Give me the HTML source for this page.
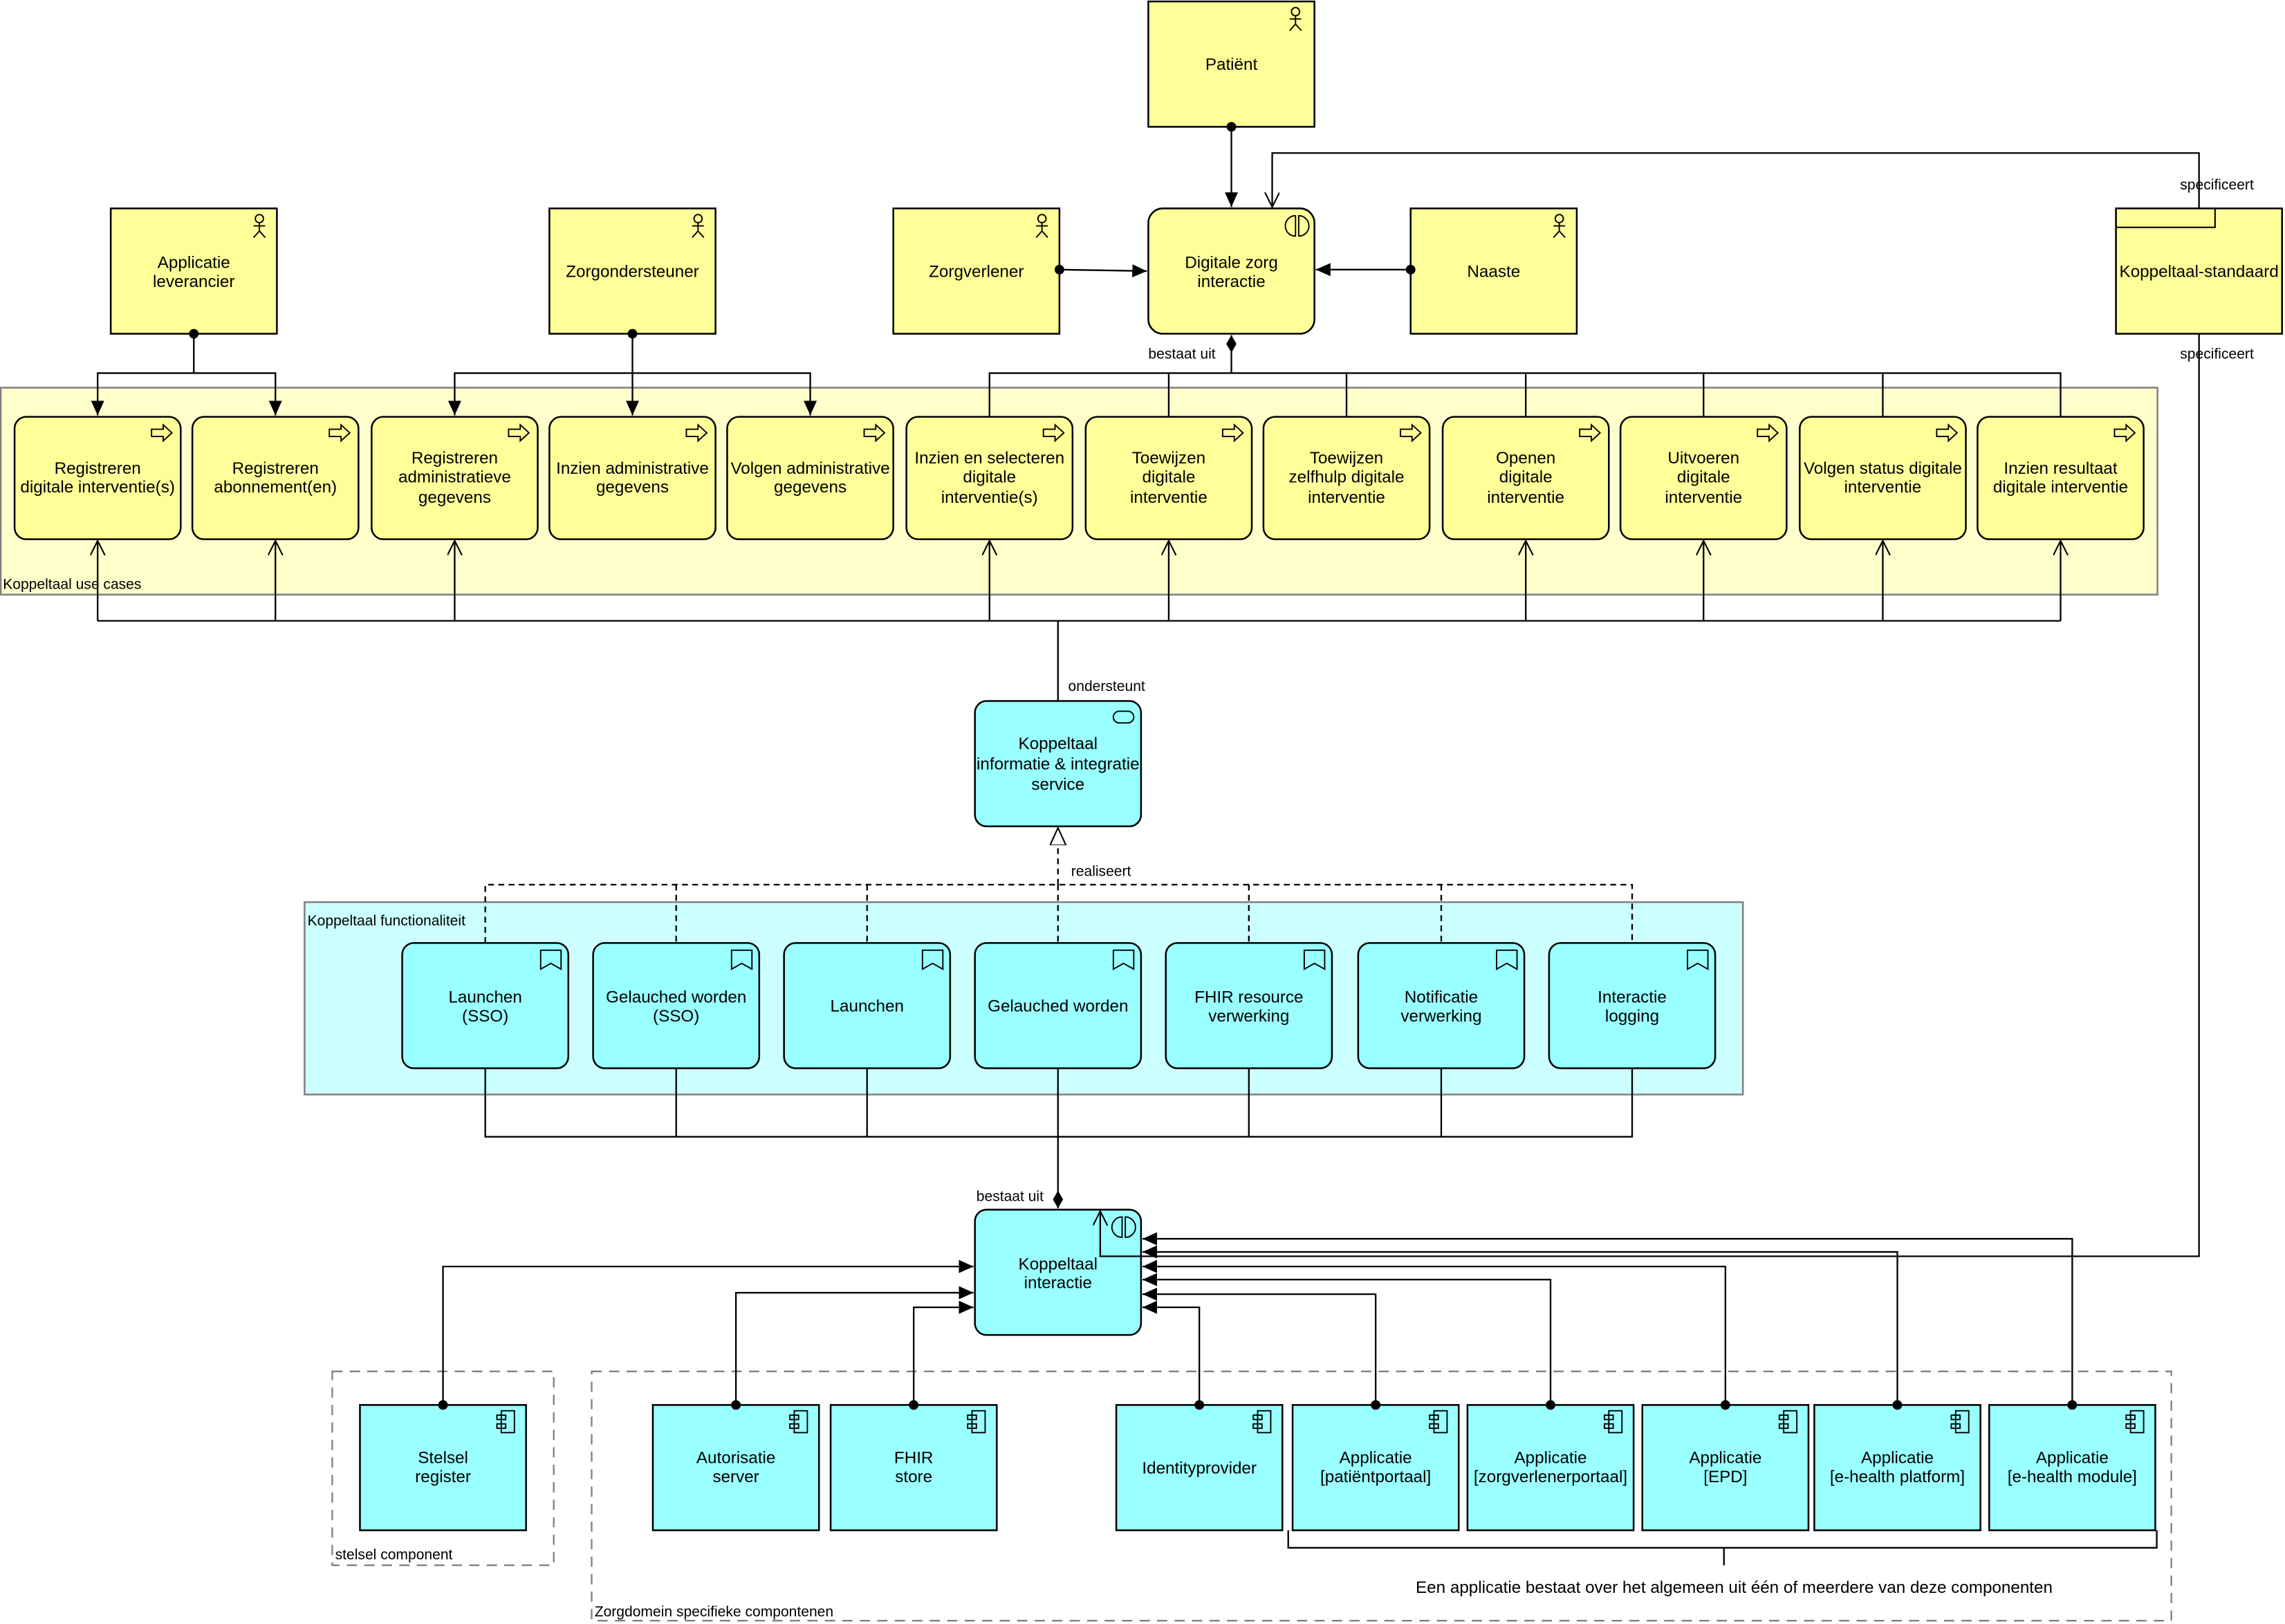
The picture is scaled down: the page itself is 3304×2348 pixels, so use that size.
<!DOCTYPE html>
<html><head><meta charset="utf-8"><style>
html,body{margin:0;padding:0;background:#fff}
svg{display:block}
text{font-family:"Liberation Sans",Arial,sans-serif;font-size:11.5px;fill:#000}
.c{text-anchor:middle}
.y{fill:#ffff99;stroke:#000;stroke-width:1.2}
.b{fill:#99ffff;stroke:#000;stroke-width:1.2}
.ln{fill:none;stroke:#000;stroke-width:1.1}
.ds{fill:none;stroke:#000;stroke-width:1.1;stroke-dasharray:4,3}
.ic{fill:none;stroke:#000;stroke-width:0.9}
</style></head><body>
<svg width="3304" height="2348" viewBox="0 0 1568 1114.3" preserveAspectRatio="none" xmlns="http://www.w3.org/2000/svg">
<defs>
<marker id="af" markerUnits="userSpaceOnUse" markerWidth="12" markerHeight="10" refX="10" refY="4.5" orient="auto"><path d="M0,0 L10,4.5 L0,9 Z" fill="#000"/></marker>
<marker id="ao" markerUnits="userSpaceOnUse" markerWidth="12" markerHeight="12" refX="10" refY="5" orient="auto"><path d="M0,0 L10,5 L0,10" fill="none" stroke="#000" stroke-width="1"/></marker>
<marker id="at" markerUnits="userSpaceOnUse" markerWidth="14" markerHeight="12" refX="12" refY="5.5" orient="auto"><path d="M0,0 L12,5.5 L0,11 Z" fill="#fff" stroke="#000" stroke-width="1"/></marker>
<marker id="dot" markerUnits="userSpaceOnUse" markerWidth="8" markerHeight="8" refX="4" refY="4" orient="auto"><circle cx="4" cy="4" r="3.3" fill="#000"/></marker>
<marker id="dia" markerUnits="userSpaceOnUse" markerWidth="14" markerHeight="9" refX="13" refY="4" orient="auto"><path d="M1,4 L7,0.5 L13,4 L7,7.5 Z" fill="#000"/></marker>
<g id="actor" class="ic"><circle cx="0" cy="-5" r="2.8"/><path d="M0,-2.2 V3.5 M-4,0 H4 M0,3.5 L-4,8 M0,3.5 L4,8"/></g>
<g id="proc" class="ic"><path d="M-8,-2.5 H0 V-5.5 L6,0 L0,5.5 V2.5 H-8 Z"/></g>
<g id="inter" class="ic"><path d="M-1,-7 A7,7 0 0 0 -1,7 Z M1.2,-7 A7,7 0 0 1 1.2,7 Z"/></g>
<g id="serv" class="ic"><rect x="-7" y="-4" width="14" height="8" rx="4"/></g>
<g id="func" class="ic"><path d="M-7,-7 H7 V6 L0,2 L-7,6 Z"/></g>
<g id="comp" class="ic"><rect x="-3" y="-7" width="9" height="15"/><rect x="-6" y="-4" width="6" height="3"/><rect x="-6" y="2" width="6" height="3"/></g>
</defs>

<!-- containers -->
<rect x="0.5" y="266" width="1480" height="142" fill="#ffffcc" stroke="#808080" stroke-width="1.2"/>
<text x="2" y="404" style="font-size:10px">Koppeltaal use cases</text>
<rect x="209" y="619" width="987" height="132" fill="#ccffff" stroke="#808080" stroke-width="1.2"/>
<text x="211" y="635" style="font-size:10px">Koppeltaal functionaliteit</text>
<rect x="228" y="941" width="152" height="133" fill="none" stroke="#808080" stroke-width="1.1" stroke-dasharray="7,5"/>
<text x="230" y="1070" style="font-size:10px">stelsel component</text>
<rect x="406" y="941" width="1084" height="171" fill="none" stroke="#808080" stroke-width="1.1" stroke-dasharray="7,5"/>
<text x="408" y="1109" style="font-size:10px">Zorgdomein specifieke compontenen</text>

<!-- top actors -->
<rect class="y" x="788" y="1" width="114" height="86"/><use href="#actor" x="889" y="13"/>
<text class="c" x="845" y="48">Patiënt</text>
<rect class="y" x="788" y="143" width="114" height="86" rx="10"/><use href="#inter" x="890" y="155"/>
<text class="c" x="845" y="184">Digitale zorg</text><text class="c" x="845" y="197">interactie</text>
<rect class="y" x="613" y="143" width="114" height="86"/><use href="#actor" x="715" y="155"/>
<text class="c" x="670" y="190">Zorgverlener</text>
<rect class="y" x="968" y="143" width="114" height="86"/><use href="#actor" x="1070" y="155"/>
<text class="c" x="1025" y="190">Naaste</text>
<rect class="y" x="76" y="143" width="114" height="86"/><use href="#actor" x="178" y="155"/>
<text class="c" x="133" y="184">Applicatie</text><text class="c" x="133" y="197">leverancier</text>
<rect class="y" x="377" y="143" width="114" height="86"/><use href="#actor" x="479" y="155"/>
<text class="c" x="434" y="190">Zorgondersteuner</text>
<rect class="y" x="1452" y="143" width="114" height="86"/><rect x="1452" y="143" width="68" height="13" fill="none" stroke="#000" stroke-width="1"/>
<text class="c" x="1509" y="190">Koppeltaal-standaard</text>

<!-- use cases -->
<g>
<rect class="y" x="10" y="286" width="114" height="84" rx="8"/><use href="#proc" x="112" y="297"/>
<text class="c" x="67" y="325">Registreren</text><text class="c" x="67" y="338">digitale interventie(s)</text>
<rect class="y" x="132" y="286" width="114" height="84" rx="8"/><use href="#proc" x="234" y="297"/>
<text class="c" x="189" y="325">Registreren</text><text class="c" x="189" y="338">abonnement(en)</text>
<rect class="y" x="255" y="286" width="114" height="84" rx="8"/><use href="#proc" x="357" y="297"/>
<text class="c" x="312" y="318">Registreren</text><text class="c" x="312" y="331">administratieve</text><text class="c" x="312" y="345">gegevens</text>
<rect class="y" x="377" y="286" width="114" height="84" rx="8"/><use href="#proc" x="479" y="297"/>
<text class="c" x="434" y="325">Inzien administrative</text><text class="c" x="434" y="338">gegevens</text>
<rect class="y" x="499" y="286" width="114" height="84" rx="8"/><use href="#proc" x="601" y="297"/>
<text class="c" x="556" y="325">Volgen administrative</text><text class="c" x="556" y="338">gegevens</text>
<rect class="y" x="622" y="286" width="114" height="84" rx="8"/><use href="#proc" x="724" y="297"/>
<text class="c" x="679" y="318">Inzien en selecteren</text><text class="c" x="679" y="331">digitale</text><text class="c" x="679" y="345">interventie(s)</text>
<rect class="y" x="745" y="286" width="114" height="84" rx="8"/><use href="#proc" x="847" y="297"/>
<text class="c" x="802" y="318">Toewijzen</text><text class="c" x="802" y="331">digitale</text><text class="c" x="802" y="345">interventie</text>
<rect class="y" x="867" y="286" width="114" height="84" rx="8"/><use href="#proc" x="969" y="297"/>
<text class="c" x="924" y="318">Toewijzen</text><text class="c" x="924" y="331">zelfhulp digitale</text><text class="c" x="924" y="345">interventie</text>
<rect class="y" x="990" y="286" width="114" height="84" rx="8"/><use href="#proc" x="1092" y="297"/>
<text class="c" x="1047" y="318">Openen</text><text class="c" x="1047" y="331">digitale</text><text class="c" x="1047" y="345">interventie</text>
<rect class="y" x="1112" y="286" width="114" height="84" rx="8"/><use href="#proc" x="1214" y="297"/>
<text class="c" x="1169" y="318">Uitvoeren</text><text class="c" x="1169" y="331">digitale</text><text class="c" x="1169" y="345">interventie</text>
<rect class="y" x="1235" y="286" width="114" height="84" rx="8"/><use href="#proc" x="1337" y="297"/>
<text class="c" x="1292" y="325">Volgen status digitale</text><text class="c" x="1292" y="338">interventie</text>
<rect class="y" x="1357" y="286" width="114" height="84" rx="8"/><use href="#proc" x="1459" y="297"/>
<text class="c" x="1414" y="325">Inzien resultaat</text><text class="c" x="1414" y="338">digitale interventie</text>
</g>

<!-- service -->
<rect class="b" x="669" y="481" width="114" height="86" rx="8"/><use href="#serv" x="771" y="492"/>
<text class="c" x="726" y="514">Koppeltaal</text><text class="c" x="726" y="528">informatie &amp; integratie</text><text class="c" x="726" y="542">service</text>

<!-- functions -->
<g>
<rect class="b" x="276" y="647" width="114" height="86" rx="8"/><use href="#func" x="378" y="659"/>
<text class="c" x="333" y="688">Launchen</text><text class="c" x="333" y="701">(SSO)</text>
<rect class="b" x="407" y="647" width="114" height="86" rx="8"/><use href="#func" x="509" y="659"/>
<text class="c" x="464" y="688">Gelauched worden</text><text class="c" x="464" y="701">(SSO)</text>
<rect class="b" x="538" y="647" width="114" height="86" rx="8"/><use href="#func" x="640" y="659"/>
<text class="c" x="595" y="694">Launchen</text>
<rect class="b" x="669" y="647" width="114" height="86" rx="8"/><use href="#func" x="771" y="659"/>
<text class="c" x="726" y="694">Gelauched worden</text>
<rect class="b" x="800" y="647" width="114" height="86" rx="8"/><use href="#func" x="902" y="659"/>
<text class="c" x="857" y="688">FHIR resource</text><text class="c" x="857" y="701">verwerking</text>
<rect class="b" x="932" y="647" width="114" height="86" rx="8"/><use href="#func" x="1034" y="659"/>
<text class="c" x="989" y="688">Notificatie</text><text class="c" x="989" y="701">verwerking</text>
<rect class="b" x="1063" y="647" width="114" height="86" rx="8"/><use href="#func" x="1165" y="659"/>
<text class="c" x="1120" y="688">Interactie</text><text class="c" x="1120" y="701">logging</text>
</g>

<!-- Koppeltaal interactie -->
<rect class="b" x="669" y="830" width="114" height="86" rx="8"/><use href="#inter" x="771" y="842"/>
<text class="c" x="726" y="871">Koppeltaal</text><text class="c" x="726" y="884">interactie</text>

<!-- components -->
<g>
<rect class="b" x="247" y="964" width="114" height="86"/><use href="#comp" x="347" y="975"/>
<text class="c" x="304" y="1004">Stelsel</text><text class="c" x="304" y="1017">register</text>
<rect class="b" x="448" y="964" width="114" height="86"/><use href="#comp" x="548" y="975"/>
<text class="c" x="505" y="1004">Autorisatie</text><text class="c" x="505" y="1017">server</text>
<rect class="b" x="570" y="964" width="114" height="86"/><use href="#comp" x="670" y="975"/>
<text class="c" x="627" y="1004">FHIR</text><text class="c" x="627" y="1017">store</text>
<rect class="b" x="766" y="964" width="114" height="86"/><use href="#comp" x="866" y="975"/>
<text class="c" x="823" y="1011">Identityprovider</text>
<rect class="b" x="887" y="964" width="114" height="86"/><use href="#comp" x="987" y="975"/>
<text class="c" x="944" y="1004">Applicatie</text><text class="c" x="944" y="1017">[patiëntportaal]</text>
<rect class="b" x="1007" y="964" width="114" height="86"/><use href="#comp" x="1107" y="975"/>
<text class="c" x="1064" y="1004">Applicatie</text><text class="c" x="1064" y="1017">[zorgverlenerportaal]</text>
<rect class="b" x="1127" y="964" width="114" height="86"/><use href="#comp" x="1227" y="975"/>
<text class="c" x="1184" y="1004">Applicatie</text><text class="c" x="1184" y="1017">[EPD]</text>
<rect class="b" x="1245" y="964" width="114" height="86"/><use href="#comp" x="1345" y="975"/>
<text class="c" x="1302" y="1004">Applicatie</text><text class="c" x="1302" y="1017">[e-health platform]</text>
<rect class="b" x="1365" y="964" width="114" height="86"/><use href="#comp" x="1465" y="975"/>
<text class="c" x="1422" y="1004">Applicatie</text><text class="c" x="1422" y="1017">[e-health module]</text>
</g>

<!-- connectors top -->
<path class="ln" d="M845,87 V142" marker-start="url(#dot)" marker-end="url(#af)"/>
<path class="ln" d="M727,185 L787,186" marker-start="url(#dot)" marker-end="url(#af)"/>
<path class="ln" d="M968,185 L903,185" marker-start="url(#dot)" marker-end="url(#af)"/>
<path class="ln" d="M133,229 V256 H67 V285" marker-start="url(#dot)" marker-end="url(#af)"/>
<path class="ln" d="M133,256 H189 V285" marker-end="url(#af)"/>
<path class="ln" d="M434,229 V256 H312 V285" marker-start="url(#dot)" marker-end="url(#af)"/>
<path class="ln" d="M434,256 V285" marker-end="url(#af)"/>
<path class="ln" d="M434,256 H556 V285" marker-end="url(#af)"/>
<path class="ln" d="M845,244 V256 H1414 V286 M679,286 V256 H845 M802,256 V286 M924,256 V286 M1047,256 V286 M1169,256 V286 M1292,256 V286"/>
<path class="ln" d="M845,244 V230" marker-end="url(#dia)"/>
<text x="788" y="246" style="font-size:10px">bestaat uit</text>
<path class="ln" d="M1509,143 V105 H873 V142" marker-end="url(#ao)"/>
<text x="1496" y="130" style="font-size:10px">specificeert</text>
<path class="ln" d="M1509,229 V862 H755 V831" marker-end="url(#ao)"/>
<text x="1496" y="246" style="font-size:10px">specificeert</text>

<!-- ondersteunt -->
<path class="ln" d="M726,481 V426"/>
<path class="ln" d="M67,426 H1414"/>
<path class="ln" d="M67,426 V371" marker-end="url(#ao)"/>
<path class="ln" d="M189,426 V371" marker-end="url(#ao)"/>
<path class="ln" d="M312,426 V371" marker-end="url(#ao)"/>
<path class="ln" d="M679,426 V371" marker-end="url(#ao)"/>
<path class="ln" d="M802,426 V371" marker-end="url(#ao)"/>
<path class="ln" d="M1047,426 V371" marker-end="url(#ao)"/>
<path class="ln" d="M1169,426 V371" marker-end="url(#ao)"/>
<path class="ln" d="M1292,426 V371" marker-end="url(#ao)"/>
<path class="ln" d="M1414,426 V371" marker-end="url(#ao)"/>
<text x="733" y="474" style="font-size:10px">ondersteunt</text>

<!-- realiseert -->
<path class="ds" d="M333,647 V607 H1120 V647 M464,607 V647 M595,607 V647 M726,607 V647 M857,607 V647 M989,607 V647"/>
<path class="ds" d="M726,607 V568" marker-end="url(#at)"/>
<text x="735" y="601" style="font-size:10px">realiseert</text>

<!-- bestaat uit bottom -->
<path class="ln" d="M333,733 V780 H1120 V733 M464,733 V780 M595,733 V780 M857,733 V780 M989,733 V780 M726,733 V817"/>
<path class="ln" d="M726,817 V829" marker-end="url(#dia)"/>
<text x="670" y="824" style="font-size:10px">bestaat uit</text>

<!-- component connections -->
<path class="ln" d="M304,964 V869 H668" marker-start="url(#dot)" marker-end="url(#af)"/>
<path class="ln" d="M505,964 V887 H668" marker-start="url(#dot)" marker-end="url(#af)"/>
<path class="ln" d="M627,964 V897 H668" marker-start="url(#dot)" marker-end="url(#af)"/>
<path class="ln" d="M823,964 V897 H784" marker-start="url(#dot)" marker-end="url(#af)"/>
<path class="ln" d="M944,964 V888 H784" marker-start="url(#dot)" marker-end="url(#af)"/>
<path class="ln" d="M1064,964 V878 H784" marker-start="url(#dot)" marker-end="url(#af)"/>
<path class="ln" d="M1184,964 V869 H784" marker-start="url(#dot)" marker-end="url(#af)"/>
<path class="ln" d="M1302,964 V859 H784" marker-start="url(#dot)" marker-end="url(#af)"/>
<path class="ln" d="M1422,964 V850 H784" marker-start="url(#dot)" marker-end="url(#af)"/>

<!-- brace -->
<path class="ln" d="M884,1050 V1062 H1480 V1050 M1183,1062 V1074"/>
<text class="c" x="1190" y="1093">Een applicatie bestaat over het algemeen uit één of meerdere van deze componenten</text>
</svg>
</body></html>
